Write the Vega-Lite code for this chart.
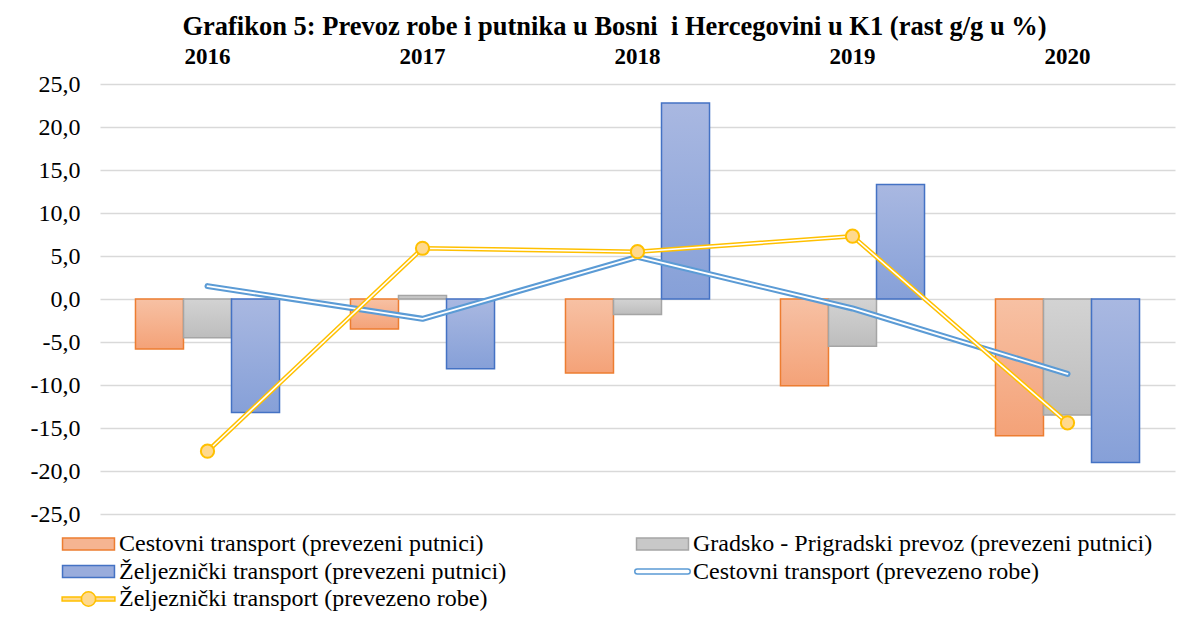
{
  "$schema": "https://vega.github.io/schema/vega-lite/v6.json",
  "width": 1075,
  "height": 430,
  "autosize": {"type": "none"},
  "padding": {"left": 100, "top": 84, "right": 4, "bottom": 108},
  "background": "white",
  "config": {"view": {"stroke": null}, "font": "Liberation Serif"},
  "title": {
    "text": "Grafikon 5: Prevoz robe i putnika u Bosni\u00a0 i Hercegovini u K1 (rast g/g u %)",
    "font": "Liberation Serif", "fontSize": 26.5, "fontWeight": "bold", "color": "black",
    "anchor": "middle", "frame": "group", "dx": -23, "baseline": "alphabetic", "offset": -16
  },
  "data": {"values": [
    {"year": "2016", "series": "Cestovni transport (prevezeni putnici)", "value": -5.8},
    {"year": "2017", "series": "Cestovni transport (prevezeni putnici)", "value": -3.5},
    {"year": "2018", "series": "Cestovni transport (prevezeni putnici)", "value": -8.6},
    {"year": "2019", "series": "Cestovni transport (prevezeni putnici)", "value": -10.1},
    {"year": "2020", "series": "Cestovni transport (prevezeni putnici)", "value": -15.9},
    {"year": "2016", "series": "Gradsko - Prigradski prevoz (prevezeni putnici)", "value": -4.5},
    {"year": "2017", "series": "Gradsko - Prigradski prevoz (prevezeni putnici)", "value": 0.4},
    {"year": "2018", "series": "Gradsko - Prigradski prevoz (prevezeni putnici)", "value": -1.8},
    {"year": "2019", "series": "Gradsko - Prigradski prevoz (prevezeni putnici)", "value": -5.5},
    {"year": "2020", "series": "Gradsko - Prigradski prevoz (prevezeni putnici)", "value": -13.5},
    {"year": "2016", "series": "Željeznički transport (prevezeni putnici)", "value": -13.2},
    {"year": "2017", "series": "Željeznički transport (prevezeni putnici)", "value": -8.1},
    {"year": "2018", "series": "Željeznički transport (prevezeni putnici)", "value": 22.8},
    {"year": "2019", "series": "Željeznički transport (prevezeni putnici)", "value": 13.3},
    {"year": "2020", "series": "Željeznički transport (prevezeni putnici)", "value": -19.0},
    {"year": "2016", "series": "Cestovni transport (prevezeno robe)", "value": 1.5},
    {"year": "2017", "series": "Cestovni transport (prevezeno robe)", "value": -2.3},
    {"year": "2018", "series": "Cestovni transport (prevezeno robe)", "value": 4.9},
    {"year": "2019", "series": "Cestovni transport (prevezeno robe)", "value": -1.1},
    {"year": "2020", "series": "Cestovni transport (prevezeno robe)", "value": -8.7},
    {"year": "2016", "series": "Željeznički transport (prevezeno robe)", "value": -17.7},
    {"year": "2017", "series": "Željeznički transport (prevezeno robe)", "value": 5.9},
    {"year": "2018", "series": "Željeznički transport (prevezeno robe)", "value": 5.5},
    {"year": "2019", "series": "Željeznički transport (prevezeno robe)", "value": 7.3},
    {"year": "2020", "series": "Željeznički transport (prevezeno robe)", "value": -14.4}
  ]},
  "encoding": {
    "x": {
      "field": "year", "type": "ordinal",
      "scale": {"paddingInner": 0.33, "paddingOuter": 0.165},
      "axis": {"orient": "top", "title": null, "labelAngle": 0, "labelFont": "Liberation Serif", "labelFontWeight": "bold", "labelFontSize": 23, "labelColor": "black", "ticks": false, "tickSize": 0, "domain": false, "labelPadding": 16, "grid": false}
    },
    "y": {
      "field": "value", "type": "quantitative",
      "scale": {"domain": [-25, 25], "nice": false, "zero": false},
      "axis": {"title": null, "values": [-25, -20, -15, -10, -5, 0, 5, 10, 15, 20, 25], "labelExpr": "(datum.value < 0 ? '-' : '') + replace(format(abs(datum.value), '.1f'), '.', ',')", "labelFont": "Liberation Serif", "labelFontSize": 24, "labelColor": "black", "ticks": false, "tickSize": 0, "domain": false, "labelPadding": 20, "gridColor": "#D9D9D9", "gridWidth": 1.3}
    }
  },
  "layer": [
    {
      "transform": [{"filter": "datum.series === 'Cestovni transport (prevezeni putnici)'"}],
      "mark": {"type": "bar", "strokeWidth": 1.5, "stroke": "#ED7D31", "fill": {"gradient": "linear", "x1": 0, "y1": 0, "x2": 0, "y2": 1, "stops": [{"offset": 0, "color": "#F7C1A4"}, {"offset": 1, "color": "#F4A278"}]}},
      "encoding": {
        "xOffset": {"field": "series", "type": "nominal", "scale": {"domain": ["Cestovni transport (prevezeni putnici)", "Gradsko - Prigradski prevoz (prevezeni putnici)", "Željeznički transport (prevezeni putnici)"], "paddingInner": 0, "paddingOuter": 0}}
      }
    },
    {
      "transform": [{"filter": "datum.series === 'Gradsko - Prigradski prevoz (prevezeni putnici)'"}],
      "mark": {"type": "bar", "strokeWidth": 1.5, "stroke": "#A5A5A5", "fill": {"gradient": "linear", "x1": 0, "y1": 0, "x2": 0, "y2": 1, "stops": [{"offset": 0, "color": "#D3D3D3"}, {"offset": 1, "color": "#BDBDBD"}]}},
      "encoding": {"xOffset": {"field": "series", "type": "nominal"}}
    },
    {
      "transform": [{"filter": "datum.series === 'Željeznički transport (prevezeni putnici)'"}],
      "mark": {"type": "bar", "strokeWidth": 1.5, "stroke": "#4472C4", "fill": {"gradient": "linear", "x1": 0, "y1": 0, "x2": 0, "y2": 1, "stops": [{"offset": 0, "color": "#A9B8E1"}, {"offset": 1, "color": "#86A0D8"}]}},
      "encoding": {"xOffset": {"field": "series", "type": "nominal"}}
    },
    {
      "transform": [{"filter": "datum.series === 'Cestovni transport (prevezeno robe)'"}],
      "mark": {"type": "line", "stroke": "#5B9BD5", "strokeWidth": 6, "strokeCap": "round", "strokeJoin": "round"},
      "encoding": {}
    },
    {
      "transform": [{"filter": "datum.series === 'Cestovni transport (prevezeno robe)'"}],
      "mark": {"type": "line", "stroke": "white", "strokeWidth": 1.8, "strokeCap": "round", "strokeJoin": "round"},
      "encoding": {}
    },
    {
      "transform": [{"filter": "datum.series === 'Željeznički transport (prevezeno robe)'"}],
      "mark": {"type": "line", "stroke": "#FFC000", "strokeWidth": 4.6, "strokeJoin": "round"},
      "encoding": {}
    },
    {
      "transform": [{"filter": "datum.series === 'Željeznički transport (prevezeno robe)'"}],
      "mark": {"type": "line", "stroke": "white", "strokeWidth": 1.6, "strokeJoin": "round"},
      "encoding": {}
    },
    {
      "transform": [{"filter": "datum.series === 'Željeznički transport (prevezeno robe)'"}],
      "mark": {"type": "point", "shape": "circle", "filled": true, "fill": "#FFD98E", "stroke": "#FFC000", "strokeWidth": 2, "size": 175, "opacity": 1},
      "encoding": {}
    },
    {
      "mark": {"type": "point", "filled": true, "opacity": 0, "size": 144},
      "encoding": {
        "stroke": {"field": "series", "type": "nominal",
          "scale": {"domain": ["Cestovni transport (prevezeni putnici)", "Željeznički transport (prevezeni putnici)", "Željeznički transport (prevezeno robe)", "Gradsko - Prigradski prevoz (prevezeni putnici)", "Cestovni transport (prevezeno robe)"], "range": ["#ED7D31", "#4472C4", "#FFC000", "#A5A5A5", "#5B9BD5"]},
          "legend": {
            "title": null, "orient": "none", "legendX": -38, "legendY": 448, "columns": 2, "columnPadding": 124, "rowPadding": 3.5, "padding": 0,
            "labelFont": "Liberation Serif", "labelFontSize": 24, "labelColor": "black", "labelLimit": 0,
            "symbolSize": 144, "symbolOffset": 14.5, "labelOffset": 18.5, "symbolStrokeWidth": 1.5, "symbolOpacity": 1
          }
        },
        "fill": {"field": "series", "type": "nominal",
          "scale": {"domain": ["Cestovni transport (prevezeni putnici)", "Željeznički transport (prevezeni putnici)", "Željeznički transport (prevezeno robe)", "Gradsko - Prigradski prevoz (prevezeni putnici)", "Cestovni transport (prevezeno robe)"], "range": ["#F5B491", "#99ACDC", "#FFD98E", "#C8C8C8", "#FFFFFF"]},
          "legend": {
            "title": null, "orient": "none", "legendX": -38, "legendY": 448, "columns": 2, "columnPadding": 124, "rowPadding": 3.5, "padding": 0,
            "labelFont": "Liberation Serif", "labelFontSize": 24, "labelColor": "black", "labelLimit": 0,
            "symbolSize": 144, "symbolOffset": 14.5, "labelOffset": 18.5, "symbolStrokeWidth": 1.5, "symbolOpacity": 1
          }
        },
        "shape": {"field": "series", "type": "nominal",
          "scale": {"domain": ["Cestovni transport (prevezeni putnici)", "Željeznički transport (prevezeni putnici)", "Željeznički transport (prevezeno robe)", "Gradsko - Prigradski prevoz (prevezeni putnici)", "Cestovni transport (prevezeno robe)"], "range": ["M-4.33,-1H4.33V1H-4.33Z", "M-4.33,-1H4.33V1H-4.33Z", "M-4.4,-0.32H-1.15V0.32H-4.4Z M1.15,-0.32H4.4V0.32H1.15Z M1.2,0A1.2,1.2 0 1 1 -1.2,0A1.2,1.2 0 1 1 1.2,0Z", "M-4.33,-1H4.33V1H-4.33Z", "M-4.2,-0.42H4.2A0.42,0.42 0 0 1 4.2,0.42H-4.2A0.42,0.42 0 0 1 -4.2,-0.42Z"]},
          "legend": {
            "title": null, "orient": "none", "legendX": -38, "legendY": 448, "columns": 2, "columnPadding": 124, "rowPadding": 3.5, "padding": 0,
            "labelFont": "Liberation Serif", "labelFontSize": 24, "labelColor": "black", "labelLimit": 0,
            "symbolSize": 144, "symbolOffset": 14.5, "labelOffset": 18.5, "symbolStrokeWidth": 1.5, "symbolOpacity": 1
          }
        }
      }
    }
  ]
}
